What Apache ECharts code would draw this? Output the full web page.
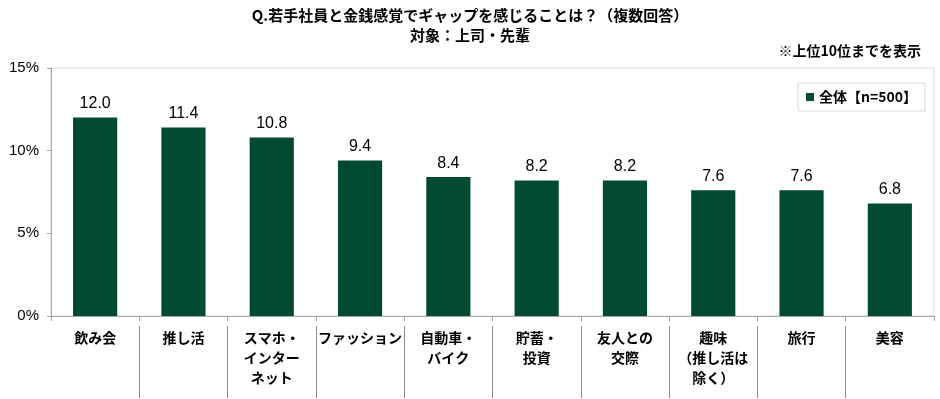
<!DOCTYPE html>
<html>
<head>
<meta charset="utf-8">
<style>
  * { margin: 0; padding: 0; }
  body { background: #fff; }
</style>
<script src="https://cdn.jsdelivr.net/npm/echarts@6/dist/echarts.min.js"></script>
</head>
<body>
<div id="chart" style="width: 940px;height: 399px;"></div>
<script>
  // 項目（上位10位）
  const categories = ['飲み会', '推し活', 'スマホ・\nインター\nネット', 'ファッション', '自動車・\nバイク',
    '貯蓄・\n投資', '友人との\n交際', '趣味\n（推し活は\n除く）', '旅行', '美容']
  // 全体【n=500】の値（%）
  const values = [12.0, 11.4, 10.8, 9.4, 8.4, 8.2, 8.2, 7.6, 7.6, 6.8]
  const yTicks = [0, 5, 10, 15]
  const seriesName = '全体【n=500】'

  const jp = '"Noto Sans CJK JP", sans-serif'
  const num = '"Liberation Sans", Arial, sans-serif'

  let myChart = echarts.init(document.getElementById('chart'))
  myChart.setOption({
    animation: false,
    title: [
      {
        text: 'Q.若手社員と金銭感覚でギャップを感じることは？（複数回答）\n対象：上司・先輩',
        left: 'center',
        top: 0,
        textStyle: {fontFamily: jp, fontSize: 15, fontWeight: 'bold', color: '#000', lineHeight: 20}
      },
      {
        text: '※上位10位までを表示',
        right: 14,
        top: 39,
        textStyle: {fontFamily: jp, fontSize: 14, fontWeight: 'bold', color: '#000'}
      }
    ],
    legend: {
      top: 83,
      right: 15,
      itemWidth: 8,
      itemHeight: 8,
      itemGap: 4,
      padding: [7, 8, 7, 8],
      borderColor: '#d9d9d9',
      borderWidth: 1,
      icon: 'rect',
      textStyle: {fontFamily: jp, fontSize: 14, fontWeight: 'bold', color: '#000'},
      data: [seriesName]
    },
    grid: [
      {left: 51, right: 6, top: 68, bottom: 83, show: true, borderColor: '#d9d9d9', borderWidth: 1},
      // 項目ラベルの区切り線用
      {left: 51, right: 6, top: 326, bottom: 1}
    ],
    xAxis: [
      {
        type: 'category',
        data: categories,
        axisLine: {lineStyle: {color: '#a6a6a6'}},
        axisTick: {show: true, length: 5, lineStyle: {color: '#a6a6a6'}},
        axisLabel: {
          interval: 0,
          margin: 12,
          fontFamily: jp,
          fontSize: 14,
          fontWeight: 'bold',
          color: '#000',
          lineHeight: 20,
          verticalAlign: 'top'
        }
      },
      {
        type: 'category',
        gridIndex: 1,
        data: categories,
        axisLine: {show: false},
        axisTick: {show: false},
        axisLabel: {show: false},
        splitLine: {show: true, showMinLine: false, showMaxLine: false, interval: 0, lineStyle: {color: '#8c8c8c', width: 1}}
      }
    ],
    yAxis: [
      {
        type: 'value',
        min: yTicks[0],
        max: yTicks[yTicks.length - 1],
        interval: 5,
        axisLine: {show: true, lineStyle: {color: '#a6a6a6'}},
        axisTick: {show: true, length: 4, lineStyle: {color: '#a6a6a6'}},
        splitLine: {show: false},
        axisLabel: {
          formatter: '{value}%',
          margin: 12,
          fontFamily: num,
          fontSize: 15,
          color: '#000'
        }
      },
      {
        type: 'value',
        gridIndex: 1,
        show: false
      }
    ],
    series: [{
      name: seriesName,
      type: 'bar',
      barWidth: '50%',
      itemStyle: {color: '#004a32'},
      label: {
        show: true,
        position: 'top',
        distance: 6,
        fontFamily: num,
        fontSize: 16,
        color: '#000',
        formatter: function (p) {
          return p.value.toFixed(1)
        }
      },
      data: values
    }]
  })
</script>
</body>
</html>
